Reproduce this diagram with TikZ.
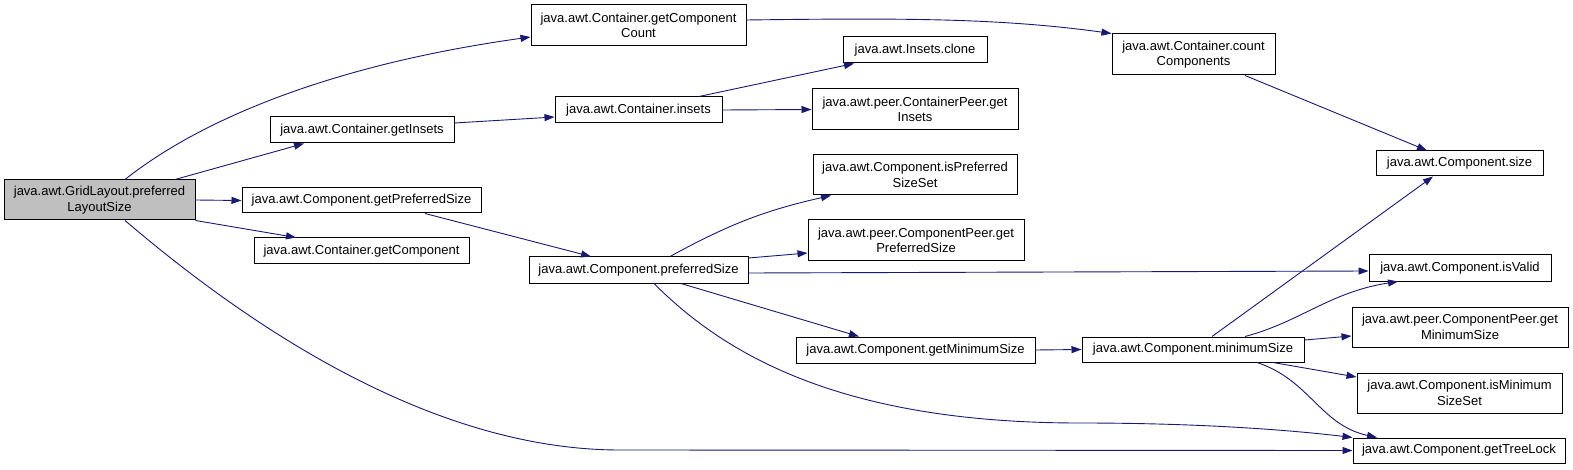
\documentclass[tikz,border=0pt]{standalone}
\usepackage{fontspec}
\setmainfont{Liberation Sans}
\usetikzlibrary{arrows.meta}
\definecolor{edgec}{HTML}{191970}
\definecolor{rootc}{HTML}{BFBFBF}
\begin{document}
\begin{tikzpicture}[x=1pt,y=-1pt,
  box/.style={draw=black, line width=1pt, fill=white, align=center, inner sep=0pt,
    font=\fontsize{13}{15.3}\selectfont},
  call/.style={draw=edgec, line width=0.9pt, -{Triangle[length=10pt,width=7pt]}}]
\useasboundingbox (0,0) rectangle (1573,470);
\fill[white] (0,0) rectangle (1573,470);
% nodes
\node[box, fill=rootc, minimum width=191pt, minimum height=40pt] (grid) at (99.5,200) {java.awt.GridLayout.preferred\\LayoutSize};
\node[box, minimum width=215pt, minimum height=41pt] (gcc) at (638.5,25.5) {java.awt.Container.getComponent\\Count};
\node[box, minimum width=184pt, minimum height=26pt] (gi) at (362,130) {java.awt.Container.getInsets};
\node[box, minimum width=167pt, minimum height=26pt] (ins) at (638.5,110) {java.awt.Container.insets};
\node[box, minimum width=144pt, minimum height=26pt] (clone) at (915,50) {java.awt.Insets.clone};
\node[box, minimum width=206pt, minimum height=41pt] (cpgi) at (915,109.5) {java.awt.peer.ContainerPeer.get\\Insets};
\node[box, minimum width=204pt, minimum height=40pt] (ips) at (915,175) {java.awt.Component.isPreferred\\SizeSet};
\node[box, minimum width=216pt, minimum height=41pt] (cpgps) at (916,240.5) {java.awt.peer.ComponentPeer.get\\PreferredSize};
\node[box, minimum width=239pt, minimum height=25pt] (gps) at (361.5,200.5) {java.awt.Component.getPreferredSize};
\node[box, minimum width=215pt, minimum height=26pt] (gcomp) at (361.5,251) {java.awt.Container.getComponent};
\node[box, minimum width=219pt, minimum height=26pt] (ps) at (638.5,270) {java.awt.Component.preferredSize};
\node[box, minimum width=239pt, minimum height=26pt] (gms) at (915.5,350) {java.awt.Component.getMinimumSize};
\node[box, minimum width=163pt, minimum height=41pt] (cc) at (1193.5,54.5) {java.awt.Container.count\\Components};
\node[box, minimum width=167pt, minimum height=25pt] (size) at (1459.5,163.5) {java.awt.Component.size};
\node[box, minimum width=182pt, minimum height=26pt] (valid) at (1460,268) {java.awt.Component.isValid};
\node[box, minimum width=222pt, minimum height=25pt] (ms) at (1193,349.5) {java.awt.Component.minimumSize};
\node[box, minimum width=216pt, minimum height=40pt] (cpgms) at (1460,327) {java.awt.peer.ComponentPeer.get\\MinimumSize};
\node[box, minimum width=205pt, minimum height=40pt] (imss) at (1459.5,393) {java.awt.Component.isMinimum\\SizeSet};
\node[box, minimum width=212pt, minimum height=25pt] (gtl) at (1459,450.5) {java.awt.Component.getTreeLock};
% edges
\draw[call] ([xshift=25.5pt]grid.north) .. controls (200,120) and (330,65) .. ([yshift=-11.5pt]gcc.west);
\draw[call] ([xshift=75.5pt]grid.north) -- ([xshift=-58pt]gi.south);
\draw[call] (grid.east) -- (gps.west);
\draw[call] (grid.south east) -- ([xshift=-65.5pt]gcomp.north);
\draw[call] ([xshift=25.5pt]grid.south) .. controls (230,310) and (420,450) .. (620,450) -- (gtl.west);
\draw[call] ([yshift=5.5pt]gcc.east) .. controls (900,18) and (1000,18) .. (cc.north west);
\draw[call] ([yshift=7pt]gi.east) -- ([yshift=-7pt]ins.west);
\draw[call] ([xshift=60.5pt]ins.north) -- ([xshift=-61pt]clone.south);
\draw[call] (ins.east) -- (cpgi.west);
\draw[call] ([xshift=51.5pt]cc.south) -- ([xshift=-32.5pt]size.north);
\draw[call] ([xshift=63.5pt]gps.south) -- ([xshift=-47.5pt]ps.north);
\draw[call] ([xshift=31.5pt]ps.north) to[bend left=8] ([xshift=-84pt]ips.south);
\draw[call] ([yshift=12pt]ps.east) -- ([yshift=-12.5pt]cpgps.west);
\draw[call] ([yshift=-3pt]ps.east) -- ([yshift=-3pt]valid.west);
\draw[call] ([xshift=42.5pt]ps.south) -- ([xshift=-56.5pt]gms.north);
\draw[call] ([xshift=15.5pt]ps.south) .. controls (730,360) and (850,423) .. (1080,423) .. controls (1200,423) and (1290,430) .. ([yshift=13pt]gtl.west);
\draw[call] (gms.east) -- (ms.west);
\draw[call] ([xshift=19pt]ms.north) -- ([xshift=-26.5pt]size.south);
\draw[call] ([xshift=52pt]ms.north) .. controls (1300,322) and (1330,292) .. ([xshift=-62pt]valid.south);
\draw[call] ([yshift=9.5pt]ms.east) -- ([yshift=-9pt]cpgms.west);
\draw[call] ([xshift=80pt]ms.south) -- ([yshift=16pt]imss.west);
\draw[call] ([xshift=64pt]ms.south) .. controls (1310,380) and (1320,425) .. ([xshift=-82pt]gtl.north);
\end{tikzpicture}
\end{document}
